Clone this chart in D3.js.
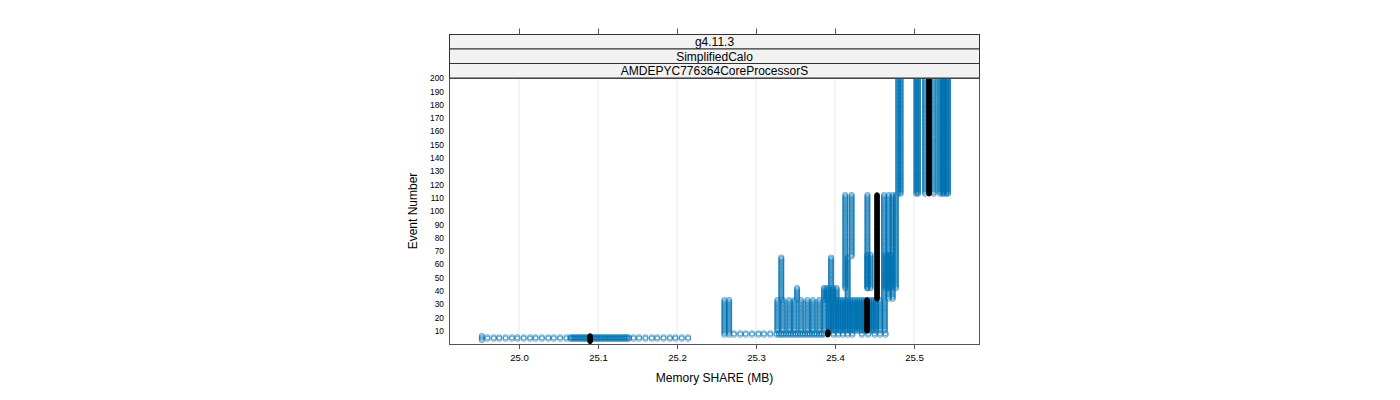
<!DOCTYPE html>
<html>
<head>
<meta charset="utf-8">
<script src="https://cdn.jsdelivr.net/npm/d3@7"></script>
<style>
  body { margin: 0; background: #fff; }
  text { font-family: "Liberation Sans", Arial, sans-serif; fill: #000; }
</style>
</head>
<body>
<svg id="chart" width="1400" height="400"></svg>
<script>
var strips = ["g4.11.3", "SimplifiedCalo", "AMDEPYC776364CoreProcessorS"];
var xTicks = [25.0, 25.1, 25.2, 25.3, 25.4, 25.5];
var yTicks = [10, 20, 30, 40, 50, 60, 70, 80, 90, 100, 110, 120, 130, 140, 150, 160, 170, 180, 190, 200];

// memory (MB) held by one job over a run of events: [memory, first event, last event]
var startupBlue = [
    [24.953, 3, 6], [24.960, 4, 5], [24.968, 4, 5], [24.975, 4, 5], [24.983, 4, 5], [24.991, 4, 5],
    [24.998, 4, 5], [25.006, 4, 5], [25.014, 4, 5], [25.021, 4, 5], [25.029, 4, 5], [25.037, 4, 5],
    [25.044, 4, 5], [25.052, 4, 5], [25.060, 4, 5], [25.065, 4, 5], [25.067, 4, 5], [25.069, 4, 5],
    [25.071, 4, 5], [25.073, 4, 5], [25.075, 4, 5], [25.077, 4, 5], [25.079, 4, 5], [25.081, 4, 5],
    [25.083, 4, 5], [25.085, 4, 5], [25.087, 4, 5], [25.089, 4, 5], [25.091, 4, 5], [25.093, 4, 5],
    [25.095, 4, 5], [25.097, 4, 5], [25.099, 4, 5], [25.101, 4, 5], [25.103, 4, 5], [25.105, 4, 5],
    [25.107, 4, 5], [25.109, 4, 5], [25.111, 4, 5], [25.113, 4, 5], [25.115, 4, 5], [25.117, 4, 5],
    [25.119, 4, 5], [25.121, 4, 5], [25.123, 4, 5], [25.125, 4, 5], [25.127, 4, 5], [25.129, 4, 5],
    [25.131, 4, 5], [25.133, 4, 5], [25.135, 4, 5], [25.137, 4, 5], [25.139, 4, 5], [25.145, 4, 5],
    [25.152, 4, 5], [25.160, 4, 5], [25.168, 4, 5], [25.175, 4, 5], [25.183, 4, 5], [25.191, 4, 5],
    [25.198, 4, 5], [25.206, 4, 5], [25.214, 4, 5]
];
var earlyBlue = [
    [25.260, 7, 33], [25.266, 7, 33],
    [25.272, 7, 8], [25.280, 7, 8], [25.287, 7, 8], [25.295, 7, 8], [25.303, 7, 8], [25.310, 7, 8],
    [25.318, 7, 8], [25.326, 7, 8], [25.329, 7, 8], [25.332, 7, 8], [25.335, 7, 8], [25.338, 7, 8],
    [25.341, 7, 8], [25.344, 7, 8], [25.347, 7, 8], [25.350, 7, 8], [25.353, 7, 8], [25.356, 7, 8],
    [25.359, 7, 8], [25.362, 7, 8], [25.365, 7, 8], [25.368, 7, 8], [25.371, 7, 8], [25.374, 7, 8],
    [25.377, 7, 8], [25.380, 7, 8], [25.383, 7, 8], [25.386, 7, 8], [25.398, 7, 8], [25.404, 7, 8],
    [25.410, 7, 8], [25.416, 7, 8], [25.422, 7, 8], [25.434, 7, 8], [25.442, 7, 8], [25.450, 7, 8],
    [25.457, 7, 8], [25.464, 7, 8]
];
var blockBlue = [
    [25.327, 10, 33], [25.334, 10, 33], [25.342, 10, 33], [25.349, 10, 33], [25.357, 10, 33],
    [25.365, 10, 33], [25.372, 10, 33], [25.380, 10, 33], [25.387, 10, 33],
    [25.392, 10, 33], [25.395, 10, 33], [25.398, 10, 33], [25.401, 10, 33], [25.404, 10, 33],
    [25.407, 10, 33], [25.410, 10, 33], [25.413, 10, 33], [25.416, 10, 33], [25.419, 10, 33],
    [25.422, 10, 33], [25.425, 10, 33], [25.428, 10, 33], [25.431, 10, 33], [25.434, 10, 33],
    [25.437, 10, 33], [25.440, 10, 33], [25.443, 10, 33], [25.446, 10, 33], [25.449, 10, 33],
    [25.452, 10, 33], [25.457, 10, 33], [25.463, 10, 33]
];
var middleBlue = [
    [25.332, 33, 65], [25.352, 33, 42], [25.386, 33, 42], [25.389, 33, 42], [25.392, 33, 42],
    [25.395, 33, 65], [25.398, 33, 42], [25.402, 33, 42], [25.413, 42, 112], [25.416, 34, 65],
    [25.421, 66, 112], [25.441, 42, 112], [25.441, 42, 67], [25.445, 42, 67],
    [25.462, 34, 112], [25.468, 34, 112], [25.473, 34, 112],
    [25.464, 42, 67], [25.467, 42, 67], [25.470, 42, 67], [25.477, 42, 112]
];
var lateBlue = [
    [25.480, 113, 200], [25.483, 113, 200], [25.503, 113, 200], [25.505, 113, 200],
    [25.514, 113, 200], [25.525, 113, 200], [25.533, 113, 200], [25.536, 113, 200],
    [25.538, 113, 200], [25.541, 113, 200], [25.543, 113, 200]
];
var referenceBlack = [
    [25.090, 2, 6], [25.391, 7, 9], [25.4405, 10, 33], [25.4532, 34, 112], [25.519, 113, 200]
];

(function () {
    var svg = d3.select("#chart");
    var pLeft = 449, pRight = 980, pTop = 78, pBottom = 344;

    var x = d3.scaleLinear().domain([24.9114, 25.5835]).range([pLeft, pRight]);
    var y = d3.scaleLinear().domain([0, 200]).range([pBottom, pTop]);

    // one point per event inside each run
    function expand(runs) {
        var pts = [];
        runs.forEach(function (r) {
            for (var e = r[1]; e <= r[2]; e++) pts.push([r[0], e]);
        });
        return pts;
    }

    svg.append("defs").append("clipPath").attr("id", "panel")
        .append("rect").attr("x", pLeft).attr("y", pTop).attr("width", pRight - pLeft).attr("height", pBottom - pTop);

    // grid
    svg.append("g").selectAll("line").data(xTicks).enter().append("line")
        .attr("x1", function (d) { return x(d); }).attr("x2", function (d) { return x(d); })
        .attr("y1", pTop).attr("y2", pBottom)
        .attr("stroke", "#e8e8e8").attr("stroke-width", 1);

    var pts = svg.append("g").attr("clip-path", "url(#panel)");
    var blue = expand([].concat(startupBlue, earlyBlue, blockBlue, middleBlue, lateBlue));
    pts.append("g").selectAll("circle").data(blue).enter().append("circle")
        .attr("cx", function (d) { return x(d[0]); })
        .attr("cy", function (d) { return y(d[1]); })
        .attr("r", 2.5)
        .attr("fill", "none")
        .attr("stroke", "#0072b2")
        .attr("stroke-opacity", 0.55)
        .attr("stroke-width", 1.1);
    pts.append("g").selectAll("circle").data(expand(referenceBlack)).enter().append("circle")
        .attr("cx", function (d) { return x(d[0]); })
        .attr("cy", function (d) { return y(d[1]); })
        .attr("r", 2.3)
        .attr("fill", "#000")
        .attr("stroke", "#000")
        .attr("stroke-width", 1);

    // panel border
    svg.append("rect").attr("x", pLeft + 0.5).attr("y", pTop + 0.5)
        .attr("width", pRight - pLeft - 1).attr("height", pBottom - pTop)
        .attr("fill", "none").attr("stroke", "#555");

    // strips
    var stripH = 14.5;
    strips.forEach(function (s, i) {
        var sy = pTop - stripH * (strips.length - i);
        svg.append("rect").attr("x", pLeft + 0.5).attr("y", sy)
            .attr("width", pRight - pLeft - 1).attr("height", stripH)
            .attr("fill", "#f2f2f2").attr("stroke", "#333");
        svg.append("text").attr("x", (pLeft + pRight) / 2).attr("y", sy + stripH / 2 + 4.3)
            .attr("text-anchor", "middle").style("font-size", "12px").text(s);
    });

    // bottom axis
    var xAxis = svg.append("g").attr("transform", "translate(0," + pBottom + ")")
        .call(d3.axisBottom(x).tickValues(xTicks).tickFormat(d3.format(".1f")).tickSizeOuter(0).tickSize(5).tickPadding(5));
    xAxis.select(".domain").remove();
    xAxis.selectAll("line").attr("stroke", "#555");
    xAxis.selectAll("text").style("font-size", "9.6px").style("font-family", "Liberation Sans, Arial, sans-serif");

    // top ticks above the strips
    var topY = pTop - stripH * strips.length;
    var tAxis = svg.append("g").attr("transform", "translate(0," + topY + ")")
        .call(d3.axisTop(x).tickValues(xTicks).tickFormat("").tickSizeOuter(0).tickSize(6));
    tAxis.select(".domain").remove();
    tAxis.selectAll("line").attr("stroke", "#555");

    // left labels (no tick marks)
    var yAxis = svg.append("g").attr("transform", "translate(" + pLeft + ",0)")
        .call(d3.axisLeft(y).tickValues(yTicks).tickSize(0).tickPadding(5));
    yAxis.select(".domain").remove();
    yAxis.selectAll("text").style("font-size", "8.4px").style("font-family", "Liberation Sans, Arial, sans-serif");

    // titles
    svg.append("text").attr("x", (pLeft + pRight) / 2).attr("y", 382)
        .attr("text-anchor", "middle").style("font-size", "12px").text("Memory SHARE (MB)");
    svg.append("text").attr("transform", "translate(417," + (pTop + pBottom) / 2 + ") rotate(-90)")
        .attr("text-anchor", "middle").style("font-size", "12px").text("Event Number");
})();
</script>
</body>
</html>
